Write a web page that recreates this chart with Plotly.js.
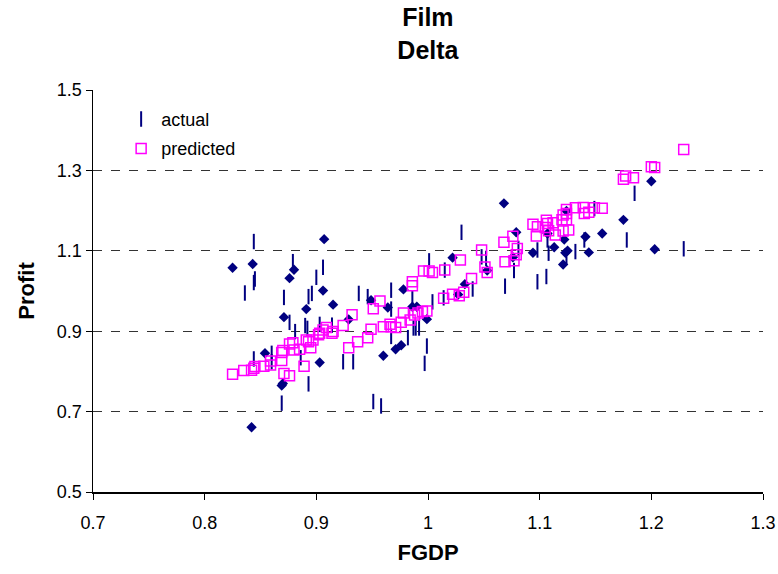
<!DOCTYPE html>
<html>
<head>
<meta charset="utf-8">
<script src="https://cdn.plot.ly/plotly-3.0.1.min.js"></script>
<style>html,body{margin:0;padding:0;background:#fff}#chart{width:778px;height:574px}</style>
</head>
<body>
<div id="chart"></div>
<script>
// Diamond markers (dark blue, not in legend)
const diamondX = [0.825,0.843,0.907,0.880,0.876,0.906,0.915,0.891,0.871,0.854,0.903,0.869,0.870,0.842,0.929,0.949,0.964,0.978,0.986,0.990,0.999,0.960,0.971,0.976,1.022,1.033,1.027,1.053,1.068,1.076,1.079,1.094,1.107,1.113,1.121,1.122,1.123,1.125,1.124,1.141,1.144,1.156,1.175,1.200,1.203];
const diamondY = [1.058,1.067,1.129,1.053,1.032,1.001,0.966,0.955,0.935,0.845,0.822,0.765,0.770,0.661,0.929,0.977,0.959,1.004,0.961,0.961,0.930,0.839,0.855,0.865,1.083,1.017,0.991,1.051,1.218,1.084,1.146,1.095,1.143,1.109,1.066,1.128,1.095,1.100,1.199,1.135,1.096,1.143,1.177,1.273,1.104];

// actual (vertical dash markers)
const actualX = [0.844,0.845,0.844,0.836,0.879,0.906,0.900,0.871,0.893,0.896,0.876,0.881,0.890,0.892,0.903,0.914,0.938,0.946,0.967,0.967,0.967,0.982,0.987,0.989,0.992,1.001,1.015,1.004,1.014,0.986,1.030,1.040,0.844,0.860,0.860,0.886,0.893,0.869,0.924,0.933,0.951,0.958,0.999,0.997,1.048,1.052,1.077,1.069,1.098,1.106,1.108,1.098,1.132,1.124,1.081,1.107,1.149,1.185,1.178,1.229,1.140];
const actualY = [1.123,1.030,1.021,0.995,1.073,1.059,1.034,0.984,0.986,0.994,0.922,0.899,0.914,0.907,0.917,0.915,0.994,0.986,1.002,0.955,0.887,0.884,0.908,0.908,0.908,1.075,1.052,0.973,0.983,0.982,1.146,1.005,0.831,0.845,0.824,0.834,0.769,0.721,0.824,0.824,0.725,0.714,0.863,0.820,1.085,1.081,1.051,1.012,1.023,1.036,1.094,1.102,1.098,1.085,1.106,1.127,1.205,1.243,1.127,1.105,1.127];

// predicted (open squares)
const predictedX = [0.825,0.835,0.842,0.844,0.845,0.853,0.859,0.859,0.869,0.869,0.870,0.871,0.876,0.876,0.879,0.880,0.885,0.889,0.891,0.893,0.895,0.897,0.902,0.903,0.906,0.909,0.914,0.915,0.924,0.932,0.929,0.937,0.946,0.949,0.951,0.957,0.960,0.966,0.967,0.971,0.976,0.978,0.984,0.986,0.986,0.988,0.991,0.995,0.999,0.996,1.001,1.004,1.015,1.014,1.022,1.028,1.032,1.029,1.039,1.048,1.051,1.053,1.068,1.069,1.076,1.077,1.079,1.080,1.094,1.098,1.097,1.105,1.106,1.107,1.108,1.112,1.114,1.120,1.121,1.121,1.124,1.124,1.124,1.126,1.132,1.139,1.140,1.144,1.149,1.156,1.175,1.177,1.184,1.200,1.203,1.229];
const predictedY = [0.793,0.802,0.803,0.808,0.812,0.813,0.826,0.816,0.827,0.847,0.852,0.795,0.789,0.868,0.871,0.853,0.855,0.813,0.878,0.874,0.859,0.878,0.891,0.895,0.903,0.909,0.895,0.899,0.914,0.941,0.859,0.874,0.884,0.905,0.956,0.975,0.911,0.917,0.911,0.909,0.922,0.945,0.928,1.023,1.013,0.940,0.945,0.949,0.950,1.050,1.050,1.046,1.052,0.982,0.992,0.988,0.997,1.077,1.031,1.102,1.060,1.046,1.121,1.073,1.136,1.075,1.090,1.106,1.166,1.160,1.137,1.158,1.176,1.168,1.150,1.170,1.139,1.177,1.189,1.149,1.203,1.193,1.177,1.152,1.207,1.208,1.193,1.196,1.207,1.206,1.278,1.286,1.282,1.309,1.307,1.352];

const xTicks = [0.7,0.8,0.9,1.0,1.1,1.2,1.3];
const xTickText = ['0.7','0.8','0.9','1','1.1','1.2','1.3'];
const yTicks = [0.5,0.7,0.9,1.1,1.3,1.5];
const yTickText = ['0.5','0.7','0.9','1.1','1.3','1.5'];

const NAVY = '#000080';
const MAGENTA = '#FF00FF';
const FONT = 'Liberation Sans, Arial, sans-serif';

const traces = [
  {
    x: diamondX, y: diamondY, type: 'scatter', mode: 'markers', showlegend: false, hoverinfo: 'skip',
    marker: {symbol: 'diamond', size: 8, color: NAVY, line: {width: 0}}
  },
  {
    x: actualX, y: actualY, type: 'scatter', mode: 'markers', name: 'actual', legendgroup: 'a',
    marker: {symbol: 'line-ns', size: 11, color: NAVY, line: {width: 2, color: NAVY}}
  },
  {
    x: predictedX, y: predictedY, type: 'scatter', mode: 'markers', name: 'predicted', legendgroup: 'p',
    marker: {symbol: 'square-open', size: 10, color: MAGENTA, line: {width: 1.5, color: MAGENTA}}
  }
];

const layout = {
  width: 778, height: 574,
  margin: {l: 93, r: 15, t: 90, b: 82},
  paper_bgcolor: '#fff', plot_bgcolor: '#fff',
  font: {family: FONT, color: '#000', size: 16},
  title: {
    text: '<b>Film</b><br><b>Delta</b>',
    font: {family: FONT, size: 25, color: '#000'},
    x: 0.55, xanchor: 'center', xref: 'container',
    y: 0.954, yanchor: 'top', yref: 'container'
  },
  xaxis: {
    range: [0.7, 1.3], tickvals: xTicks, ticktext: xTickText,
    showgrid: false, zeroline: false, showline: true, linecolor: '#000', linewidth: 1.5,
    ticks: 'outside', ticklen: 6, tickcolor: '#000', tickwidth: 1,
    ticklabelstandoff: 8,
    tickfont: {family: FONT, size: 18, color: '#000'},
    title: {text: '<b>FGDP</b>', font: {family: FONT, size: 22, color: '#000'}, standoff: 12}
  },
  yaxis: {
    range: [0.5, 1.5], tickvals: yTicks, ticktext: yTickText,
    showgrid: true, gridcolor: '#333', gridwidth: 1, griddash: 'dash',
    zeroline: false, showline: true, linecolor: '#000', linewidth: 1.5,
    ticks: 'outside', ticklen: 6, tickcolor: '#000', tickwidth: 1,
    tickfont: {family: FONT, size: 18, color: '#000'},
    title: {text: '<b>Profit</b>', font: {family: FONT, size: 22, color: '#000'}, standoff: 16}
  },
  legend: {
    x: 0.042, y: 0.973, xanchor: 'left', yanchor: 'top',
    bgcolor: 'rgba(0,0,0,0)', font: {family: FONT, size: 18, color: '#000'},
    traceorder: 'grouped', tracegroupgap: 3, itemwidth: 30
  },
  showlegend: true
};

Plotly.newPlot('chart', traces, layout, {displayModeBar: false, staticPlot: true});
</script>
</body>
</html>
